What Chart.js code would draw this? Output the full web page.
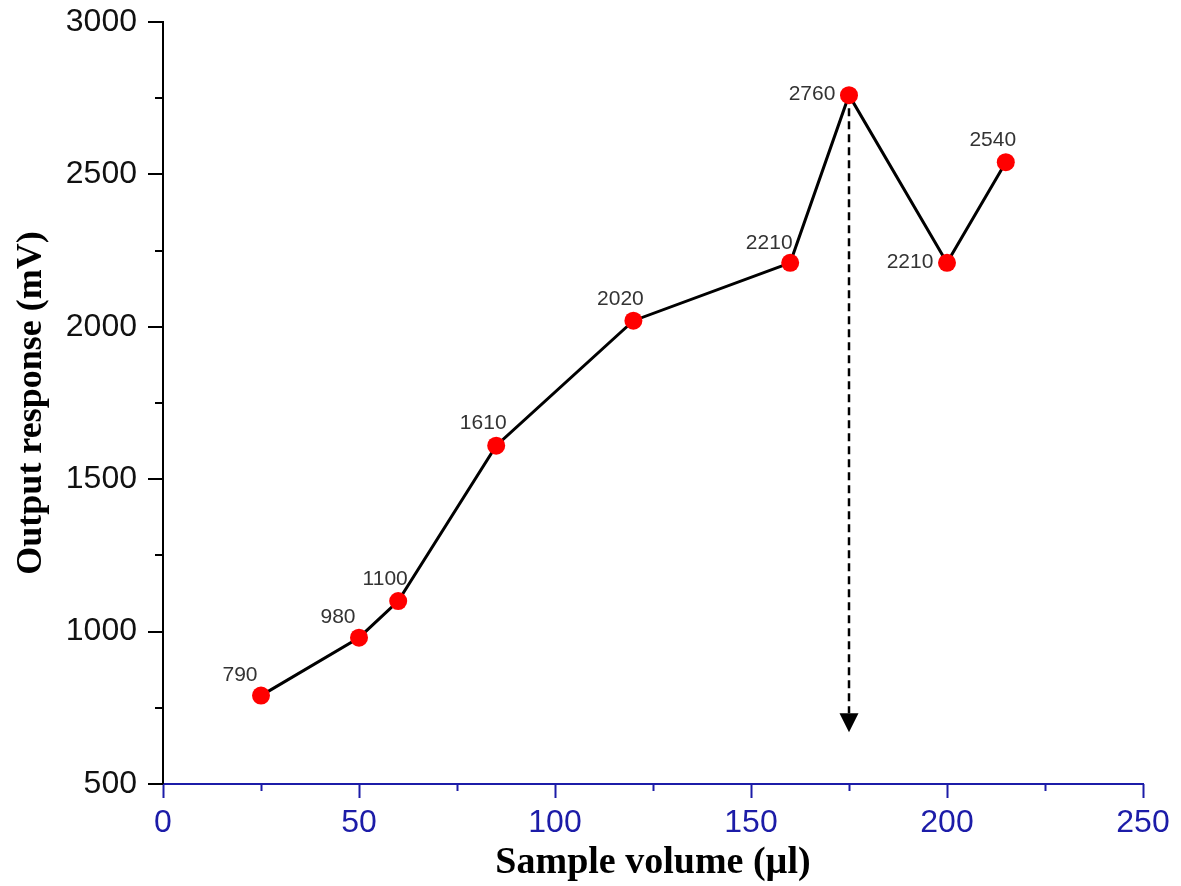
<!DOCTYPE html>
<html>
<head>
<meta charset="utf-8">
<title>Output response vs sample volume</title>
<script src="https://cdn.jsdelivr.net/npm/chart.js@4.4.1/dist/chart.umd.min.js"></script>
<style>
    html, body { margin: 0; padding: 0; background: #fff; }
    #wrap { width: 1181px; height: 886px; position: relative; }
</style>
</head>
<body>
<div id="wrap"><canvas id="chart"></canvas></div>
<script>
// ============================================================
// data
// ============================================================
const sampleVolumes = [25, 50, 60, 85, 120, 160, 175, 200, 215];
const outputResponse = [790, 980, 1100, 1610, 2020, 2210, 2760, 2210, 2540];
// where each value label sits relative to its point
const labelPlacement = ['upLeft', 'upLeft', 'up', 'up', 'up', 'upLeft', 'left', 'left', 'up'];

const xTickRange = [0, 250];
const yTickRange = [500, 3000];

// dashed arrow drops from the optimum down to this value
const arrowFromIndex = 6;
const arrowTipValue = 670;

const AXIS_BLUE = '#1c1ca8';
const LABEL_GREY = '#333333';

const offsets = {
    upLeft: [-21, -20],
    up: [-13, -22],
    left: [-37, -1]
};

// ------------------------------------------------------------
// draws tick marks (major + minor), value labels and the arrow
// ------------------------------------------------------------
const decorPlugin = {
    id: 'decor',
    beforeDatasetsDraw(chart) {
        const { ctx } = chart;
        const xs = chart.scales.x, ys = chart.scales.y;
        const px = xs.getPixelForValue(sampleVolumes[arrowFromIndex]);
        const py0 = ys.getPixelForValue(outputResponse[arrowFromIndex]);
        const tip = ys.getPixelForValue(arrowTipValue);
        const head = 19;

        ctx.save();
        ctx.strokeStyle = '#000';
        ctx.lineWidth = 2.5;
        ctx.setLineDash([8, 5]);
        ctx.beginPath();
        ctx.moveTo(px, py0);
        ctx.lineTo(px, tip - head);
        ctx.stroke();
        ctx.setLineDash([]);
        ctx.fillStyle = '#000';
        ctx.beginPath();
        ctx.moveTo(px - head / 2, tip - head);
        ctx.lineTo(px + head / 2, tip - head);
        ctx.lineTo(px, tip);
        ctx.closePath();
        ctx.fill();
        ctx.restore();
    },
    afterDatasetsDraw(chart) {
        const { ctx, chartArea } = chart;
        const xs = chart.scales.x, ys = chart.scales.y;

        ctx.save();
        // x ticks
        ctx.strokeStyle = AXIS_BLUE;
        ctx.lineWidth = 2;
        xs.ticks.forEach(t => {
            const p = Math.round(xs.getPixelForValue(t.value)) + 0.5;
            const len = t.value % 50 === 0 ? 14 : 7;
            ctx.beginPath();
            ctx.moveTo(p, chartArea.bottom);
            ctx.lineTo(p, chartArea.bottom + len);
            ctx.stroke();
        });
        // y ticks
        ctx.strokeStyle = '#000';
        ys.ticks.forEach(t => {
            const p = Math.round(ys.getPixelForValue(t.value));
            const len = t.value % 500 === 0 ? 15 : 8;
            ctx.beginPath();
            ctx.moveTo(chartArea.left - len, p);
            ctx.lineTo(chartArea.left, p);
            ctx.stroke();
        });

        // value labels
        ctx.fillStyle = LABEL_GREY;
        ctx.font = '21px "Liberation Sans", Arial, sans-serif';
        ctx.textAlign = 'center';
        ctx.textBaseline = 'middle';
        chart.getDatasetMeta(0).data.forEach((pt, i) => {
            const [dx, dy] = offsets[labelPlacement[i]] || [0, -20];
            ctx.fillText(String(outputResponse[i]), pt.x + dx, pt.y + dy);
        });
        ctx.restore();
    }
};

const ctx = document.getElementById('chart').getContext('2d');

new Chart(ctx, {
    type: 'line',
    data: {
        datasets: [{
            data: sampleVolumes.map((v, i) => ({ x: v, y: outputResponse[i] })),
            borderColor: '#000',
            borderWidth: 3,
            backgroundColor: '#ff0000',
            pointBackgroundColor: '#ff0000',
            pointBorderColor: '#ff0000',
            pointBorderWidth: 0,
            pointRadius: 9,
            tension: 0,
            fill: false
        }]
    },
    options: {
        responsive: true,
        maintainAspectRatio: false,
        animation: false,
        layout: { padding: { top: 22, right: 38, left: 0, bottom: 0 } },
        plugins: { legend: { display: false }, tooltip: { enabled: false } },
        scales: {
            x: {
                type: 'linear',
                min: xTickRange[0],
                max: xTickRange[1],
                border: { display: true, color: AXIS_BLUE, width: 2 },
                grid: { drawOnChartArea: false, drawTicks: false },
                ticks: {
                    stepSize: 25,
                    autoSkip: false,
                    maxRotation: 0,
                    padding: 20,
                    color: AXIS_BLUE,
                    font: { family: '"Liberation Sans", Arial, sans-serif', size: 32 },
                    callback: v => (v % 50 === 0 ? v : '')
                },
                title: {
                    display: true,
                    text: 'Sample volume (µl)',
                    color: '#000',
                    padding: { top: 0, bottom: 0 },
                    font: { family: '"Liberation Serif", "Times New Roman", serif', size: 38, weight: 'bold' }
                },
                afterFit(scale) {
                    scale.height = 102;
                    scale.paddingLeft = 0;
                    scale.paddingRight = 0;
                }
            },
            y: {
                min: yTickRange[0],
                max: yTickRange[1],
                border: { display: true, color: '#000', width: 2 },
                grid: { drawOnChartArea: false, drawTicks: false },
                ticks: {
                    stepSize: 250,
                    autoSkip: false,
                    padding: 26,
                    color: '#111',
                    font: { family: '"Liberation Sans", Arial, sans-serif', size: 32 },
                    callback: v => (v % 500 === 0 ? v : '')
                },
                title: {
                    display: true,
                    text: 'Output response (mV)',
                    color: '#000',
                    padding: { top: 10, bottom: 0 },
                    font: { family: '"Liberation Serif", "Times New Roman", serif', size: 36, weight: 'bold' }
                },
                afterFit(scale) {
                    scale.width = 163;
                    scale.paddingTop = 0;
                    scale.paddingBottom = 0;
                }
            }
        }
    },
    plugins: [decorPlugin]
});
</script>
</body>
</html>
